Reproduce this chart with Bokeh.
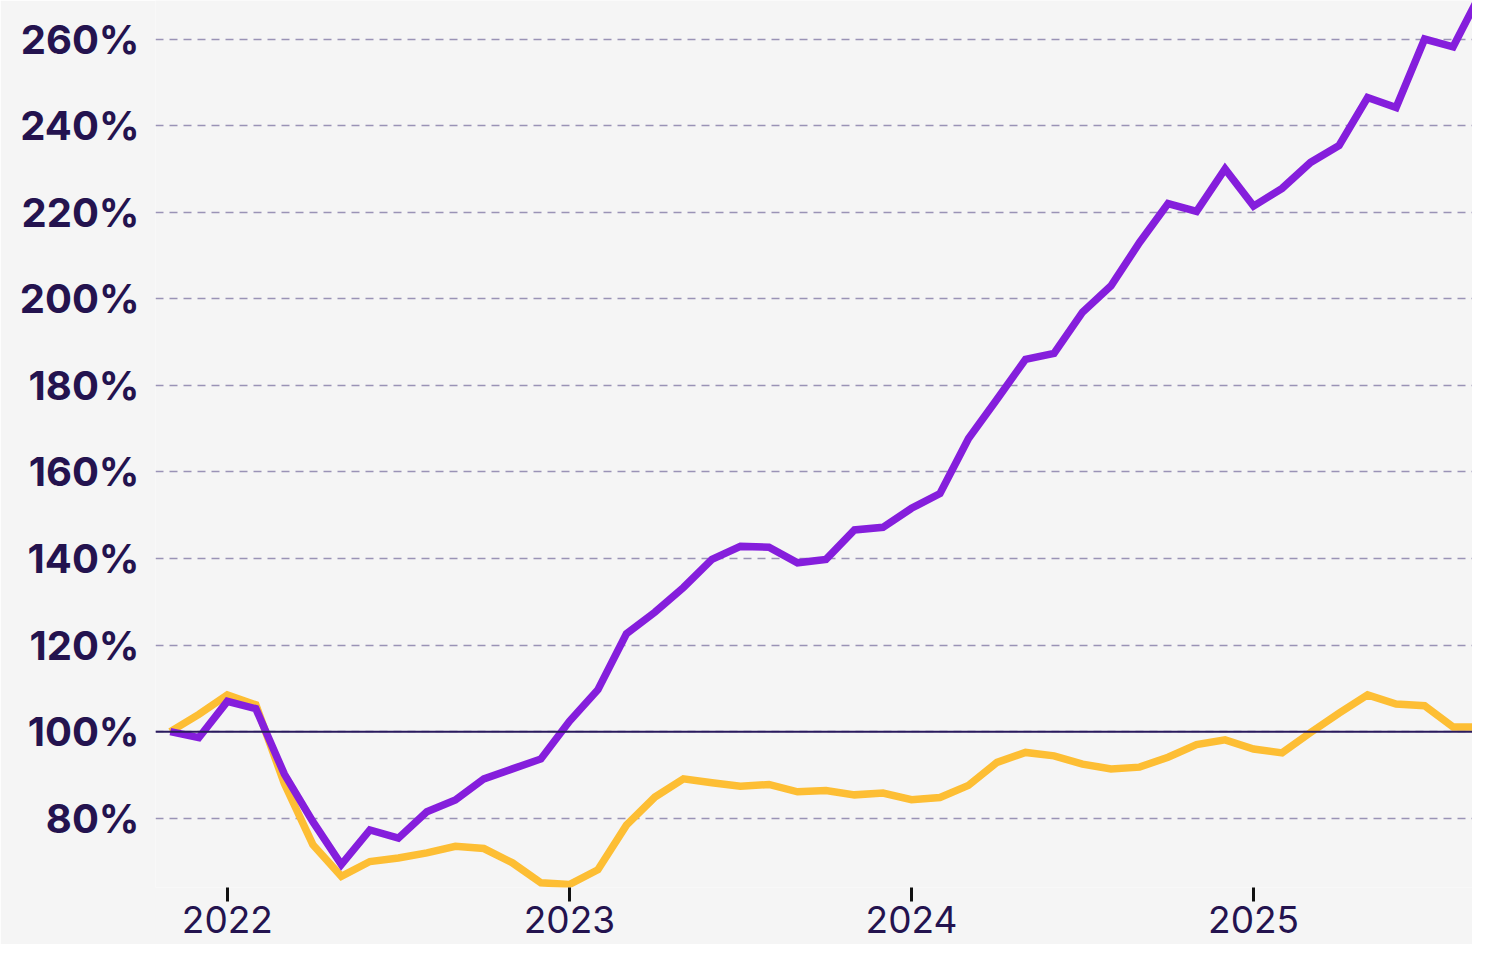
from bokeh.plotting import figure
from bokeh.models import FixedTicker, Span, Range1d
from bokeh.embed import file_html
from bokeh.resources import INLINE

# Monthly series, Nov 2021 .. Sep 2025 (index, 100% = start)
start_year, start_month = 2021, 11
purple_vals = [100, 98.6,
               107, 105.3, 90.2, 79.2, 69.3, 77.3, 75.4, 81.5, 84.2, 89.1, 91.4, 93.7,
               102.4, 109.7, 122.6, 127.6, 133.3, 139.8, 142.8, 142.6, 139, 139.8, 146.6, 147.2,
               151.6, 155, 167.7, 176.8, 186, 187.4, 196.9, 203, 213, 222, 220.2, 230,
               221.4, 225.5, 231.5, 235.4, 246.5, 244.2, 260, 258.2, 271]
yellow_vals = [100, 104,
               108.5, 106.2, 88, 73.9, 66.6, 70, 70.8, 72, 73.5, 73, 69.7, 65.1,
               64.7, 68.1, 78.4, 84.9, 89.1, 88.2, 87.4, 87.8, 86.1, 86.4, 85.4, 85.8,
               84.3, 84.8, 87.6, 92.9, 95.2, 94.4, 92.5, 91.4, 91.8, 94.1, 97, 98.1,
               96, 95.1, 99.8, 104.3, 108.5, 106.4, 106, 101.1, 101.1]
year_ticks = [2022, 2023, 2024, 2025]
year_labels = ["2022", "2023", "2024", "2025"]
pct_ticks = [80, 100, 120, 140, 160, 180, 200, 220, 240, 260]
pct_labels = ["80%", "100%", "120%", "140%", "160%", "180%", "200%", "220%", "240%", "260%"]

# fractional-year x positions
x = []
y_, m_ = start_year, start_month
for _ in purple_vals:
    x.append(y_ + (m_ - 1) / 12)
    m_ += 1
    if m_ > 12:
        m_ = 1
        y_ += 1

BG = "#f5f5f5"
NAVY = "#24134f"
PURPLE = "#851edc"
YELLOW = "#fdbe34"
FONT = "Inter"

p = figure(width=1472, height=944, output_backend="svg", toolbar_location=None,
           x_range=Range1d(2021.79, 2025.64), y_range=Range1d(64.0, 268.9),
           min_border_left=155, min_border_right=0, min_border_top=0, min_border_bottom=57)
p.background_fill_color = BG
p.border_fill_color = BG
p.outline_line_color = None

p.xgrid.grid_line_color = None
p.ygrid.ticker = FixedTicker(ticks=pct_ticks)
p.ygrid.grid_line_color = "#9a93b6"
p.ygrid.grid_line_width = 1.6
p.ygrid.grid_line_dash = "8 6"

p.yaxis.ticker = FixedTicker(ticks=pct_ticks)
p.yaxis.major_label_overrides = dict(zip(pct_ticks, pct_labels))
p.yaxis.axis_line_color = None
p.yaxis.major_tick_line_color = None
p.yaxis.minor_tick_line_color = None
p.yaxis.major_label_text_font = FONT
p.yaxis.major_label_text_font_size = "40px"
p.yaxis.major_label_text_font_style = "bold"
p.yaxis.major_label_text_color = NAVY
p.yaxis.major_label_standoff = 10

p.xaxis.ticker = FixedTicker(ticks=year_ticks)
p.xaxis.major_label_overrides = dict(zip(year_ticks, year_labels))
p.xaxis.axis_line_color = None
p.xaxis.major_tick_in = 0
p.xaxis.major_tick_out = 14
p.xaxis.major_tick_line_width = 3
p.xaxis.major_tick_line_color = "#111111"
p.xaxis.minor_tick_line_color = None
p.xaxis.major_label_text_font = FONT
p.xaxis.major_label_text_font_size = "37px"
p.xaxis.major_label_text_color = NAVY
p.xaxis.major_label_standoff = 4

p.add_layout(Span(location=100, dimension="width", line_color="#2a1b5e", line_width=2))

p.line(x, yellow_vals, line_color=YELLOW, line_width=7.5, line_join="miter")
p.line(x, purple_vals, line_color=PURPLE, line_width=7.5, line_join="miter")

open("out.html", "w").write(file_html(p, INLINE))
